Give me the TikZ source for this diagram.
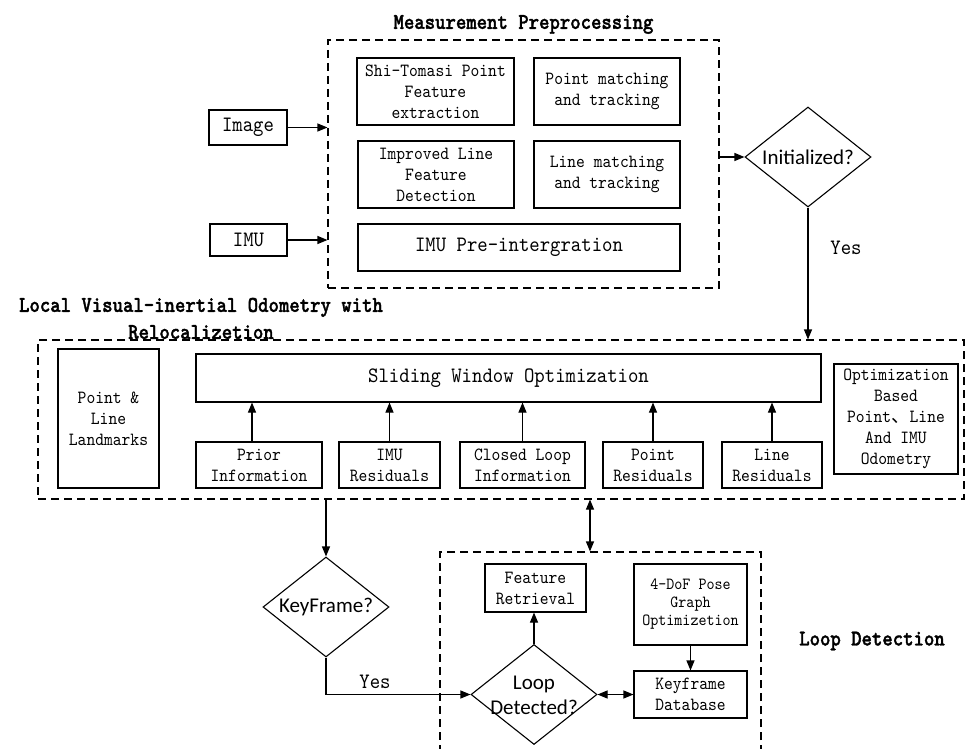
\documentclass[tikz,border=0pt]{standalone}
\usepackage{fontspec}
\usetikzlibrary{arrows.meta,shapes.geometric,calc}
\newfontfamily\bxf{lmmono10-regular.otf}[FakeStretch=0.9]
\newfontfamily\ttlf{lmmonolt10-bold.otf}[FakeStretch=0.88,FakeBold=1.5]
\newfontfamily\dmf{Carlito}
\newfontfamily\cjkf{Noto Sans CJK SC}
\newcommand{\myfs}{\bxf\fontsize{18.6}{21}\selectfont}
\newcommand{\myfl}{\bxf\fontsize{22}{26}\selectfont}
\newcommand{\myfd}{\bxf\fontsize{17}{18}\selectfont}
\newcommand{\myft}{\ttlf\fontsize{22.5}{27}\selectfont}
\newcommand{\myfdia}{\dmf\fontsize{21}{25}\selectfont}
\begin{document}
\begin{tikzpicture}[x=1pt,y=-1pt,
  bx/.style={draw, line width=1.1pt, inner sep=0pt, align=center, font=\myfs},
  dbox/.style={draw, line width=1.1pt, dash pattern=on 8pt off 5pt, inner sep=0pt},
  arr/.style={line width=1.1pt, -{Triangle[length=10pt,width=8pt]}},
  darr/.style={line width=1.1pt, {Triangle[length=10pt,width=8pt]}-{Triangle[length=10pt,width=8pt]}},
  dia/.style={draw, diamond, line width=1.1pt, inner sep=0pt, minimum width=126pt, minimum height=100pt},
  lbl/.style={inner sep=0pt, align=center}]
\useasboundingbox (0,0) rectangle (967,749);

% ---------- Measurement preprocessing ----------
\node[dbox, minimum width=391pt, minimum height=248pt] (mp) at (523.5,164) {};
\node[lbl, font=\myft] (t1) at (523.5,24.5) {Measurement Preprocessing};

\node[bx, font=\myfl, minimum width=78pt, minimum height=35pt] (img) at (248,127.5) {Image};
\node[bx, font=\myfl, minimum width=77pt, minimum height=32pt] (imu) at (248.5,240) {IMU};

\node[bx, minimum width=157pt, minimum height=67pt] (shi) at (435.5,91.5) {Shi-Tomasi Point\\Feature\\extraction};
\node[bx, minimum width=146pt, minimum height=67pt] (pmt) at (607,91.5) {Point matching\\and tracking};
\node[bx, minimum width=156pt, minimum height=67pt] (ild) at (436,174.5) {Improved Line\\Feature\\Detection};
\node[bx, minimum width=146pt, minimum height=67pt] (lmt) at (607,174.5) {Line matching\\and tracking};
\node[bx, font=\myfl, minimum width=322pt, minimum height=47pt] (ipi) at (519,247.5) {IMU Pre-intergration};

\node[dia] (ini) at (808,157) {};
\node[lbl, font=\myfdia] (init) at (ini.center) {Initialized?};
\node[lbl, font=\myfl] (yes1) at (846,248) {Yes};

\draw[arr] (img.east) -- (img.east -| mp.west);
\draw[arr] (imu.east) -- (imu.east -| mp.west);
\draw[arr] (mp.east |- ini.west) -- (ini.west);

% ---------- Local VIO ----------
\node[dbox, minimum width=926pt, minimum height=159pt] (lv) at (501,419.5) {};
\node[lbl, font=\myft] (t2) at (201,318.5) {Local Visual-inertial Odometry with\\Relocalizetion};

\draw[arr] (ini.south) -- (ini.south |- lv.north);

\node[bx, minimum width=101pt, minimum height=139pt] (plm) at (108.5,418.5) {Point \&\\Line\\Landmarks};
\node[bx, font=\myfl, minimum width=625pt, minimum height=48pt] (swo) at (508.5,378) {Sliding Window Optimization};
\node[bx, minimum width=126pt, minimum height=46pt] (pri) at (259,465) {Prior\\Information};
\node[bx, minimum width=101pt, minimum height=46pt] (imr) at (389.5,465) {IMU\\Residuals};
\node[bx, minimum width=125pt, minimum height=46pt] (cli) at (522.5,465) {Closed Loop\\Information};
\node[bx, minimum width=100pt, minimum height=46pt] (ptr) at (653,465) {Point\\Residuals};
\node[bx, minimum width=100pt, minimum height=46pt] (lnr) at (772,465) {Line\\Residuals};
\node[bx, minimum width=124pt, minimum height=110pt] (opt) at (896,419) {Optimization\\Based\\Point{\cjkf 、}Line\\And IMU\\Odometry};

\draw[arr] ([xshift=-7pt]pri.north) -- ([xshift=-7pt]pri.north |- swo.south);
\draw[arr] (imr.north) -- (imr.north |- swo.south);
\draw[arr] (cli.north) -- (cli.north |- swo.south);
\draw[arr] (ptr.north) -- (ptr.north |- swo.south);
\draw[arr] (lnr.north) -- (lnr.north |- swo.south);

% ---------- Loop detection ----------
\node[dbox, minimum width=321pt, minimum height=218pt] (lpd) at (600.5,661) {};
\node[lbl, font=\myft] (t3) at (872,641) {Loop Detection};

\node[dia] (kf) at (326,607) {};
\node[lbl, font=\myfdia] (kft) at (kf.center) {KeyFrame?};
\node[dia] (ldm) at (534,694.5) {};
\node[lbl, font=\myfdia] (ldt) at (534,695.5) {Loop\\Detected?};

\node[bx, minimum width=101pt, minimum height=48pt] (frt) at (535.5,588) {Feature\\Retrieval};
\node[bx, font=\myfd, minimum width=113pt, minimum height=81pt] (dof) at (690.5,604.5) {4-DoF Pose\\Graph\\Optimizetion};
\node[bx, minimum width=113pt, minimum height=47pt] (kdb) at (690.5,694.5) {Keyframe\\Database};
\node[lbl, font=\myfl] (yes2) at (375,682) {Yes};

\coordinate (dv) at (590,0);
\draw[arr] (lv.south -| kf.north) -- (kf.north);
\draw[darr] (lv.south -| dv) -- (lpd.north -| dv);
\draw[arr] (kf.south) |- (ldm.west);
\draw[arr] (ldm.north) -- (ldm.north |- frt.south);
\draw[arr] (dof.south) -- (kdb.north);
\draw[darr] (ldm.east) -- (kdb.west);
\end{tikzpicture}
\end{document}
